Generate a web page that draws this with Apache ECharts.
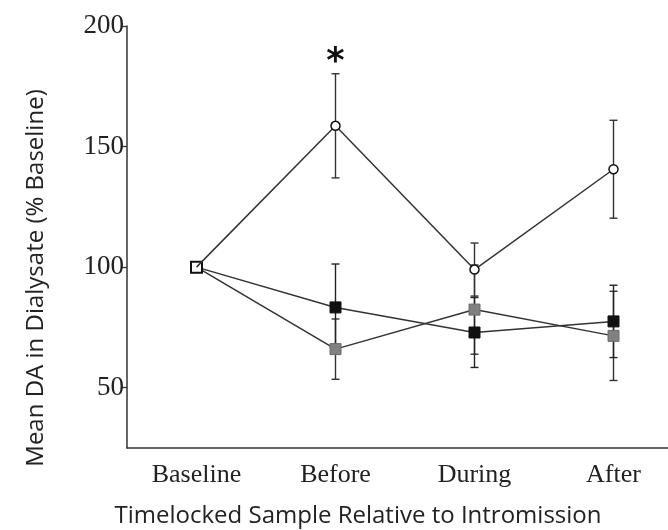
<!DOCTYPE html>
<html>
<head>
<meta charset="utf-8">
<script src="https://cdn.jsdelivr.net/npm/echarts@6/dist/echarts.min.js"></script>
<style>
  html, body { margin: 0; padding: 0; background: #fff; }
  #chart { width: 668px; height: 530px; }
</style>
</head>
<body>
<div id="chart"></div>
<script>
// samples on the x axis
var categories = ['Baseline', 'Before', 'During', 'After'];
var yTicks = [50, 100, 150, 200];

// open circles
var circleMean = [100, 158.6, 99, 140.6];
var circleErr = [0, 21.6, 11, 20.3];
// black squares
var blackMean = [100, 83.3, 72.9, 77.5];
var blackErr = [0, 18, 14.5, 15];
// grey squares
var greyMean = [100, 66, 82.4, 71.5];
var greyErr = [0, 12.5, 18.5, 18.5];
// significance marks (open circles)
var sigMarks = ['', '*', '', ''];

var chart = echarts.init(document.getElementById('chart'));

function errData(mean, err, marks) {
  var out = [];
  for (var i = 0; i < mean.length; i++) {
    if (err[i] > 0) out.push([i, mean[i], err[i], marks ? marks[i] : '']);
  }
  return out;
}

function renderErr(color) {
  return function(params, api) {
    var x = api.value(0), m = api.value(1), e = api.value(2);
    var top = api.coord([x, m + e]);
    var bot = api.coord([x, m - e]);
    var w = 4;
    var st = { stroke: color, lineWidth: 1.4 };
    var kids = [
      { type: 'line', shape: { x1: top[0], y1: top[1], x2: bot[0], y2: bot[1] }, style: st },
      { type: 'line', shape: { x1: top[0] - w, y1: top[1], x2: top[0] + w, y2: top[1] }, style: st },
      { type: 'line', shape: { x1: bot[0] - w, y1: bot[1], x2: bot[0] + w, y2: bot[1] }, style: st }
    ];
    var mark = api.value(3);
    if (mark) {
      kids.push({
        type: 'text',
        style: {
          text: mark, x: top[0], y: top[1] - 11,
          align: 'center', verticalAlign: 'middle',
          font: 'bold 35px "DejaVu Sans"', fill: '#111'
        }
      });
    }
    return { type: 'group', children: kids };
  };
}

var lineStyle = { color: '#333', width: 1.5 };

var option = {
  animation: false,
  backgroundColor: '#fff',
  grid: { left: 127, top: 26, right: -15, bottom: 82, outerBoundsMode: 'none' },
  xAxis: {
    type: 'category',
    data: categories,
    boundaryGap: true,
    axisLine: { lineStyle: { color: '#333', width: 1.5 } },
    axisTick: { alignWithLabel: true, length: 6, lineStyle: { color: '#333', width: 1.3 } },
    axisLabel: { fontFamily: 'Liberation Serif', fontSize: 26, color: '#222', margin: 14 }
  },
  yAxis: {
    type: 'value',
    min: 25,
    max: 200,
    splitLine: { show: false },
    axisLine: { show: true, lineStyle: { color: '#333', width: 1.5 } },
    axisTick: { show: true, length: 6, customValues: yTicks, lineStyle: { color: '#333', width: 1.3 } },
    axisLabel: { customValues: yTicks, fontFamily: 'Liberation Serif', fontSize: 27, color: '#222', margin: 3 }
  },
  graphic: [
    {
      type: 'text', x: 36, y: 278, rotation: Math.PI / 2,
      style: {
        text: 'Mean DA in Dialysate (% Baseline)', align: 'center', verticalAlign: 'middle',
        font: '24px "Open Sans"', fill: '#222'
      }
    },
    {
      type: 'text', x: 358, y: 516,
      style: {
        text: 'Timelocked Sample Relative to Intromission', align: 'center', verticalAlign: 'middle',
        font: '24px "Open Sans"', fill: '#222'
      }
    }
  ],
  series: [
    { type: 'custom', renderItem: renderErr('#333'), data: errData(greyMean, greyErr), z: 1 },
    { type: 'custom', renderItem: renderErr('#222'), data: errData(blackMean, blackErr), z: 1 },
    { type: 'custom', renderItem: renderErr('#333'), data: errData(circleMean, circleErr, sigMarks), z: 1 },
    {
      type: 'line', data: greyMean, symbol: 'rect', symbolSize: 11, z: 3,
      lineStyle: lineStyle, itemStyle: { color: '#808080', borderColor: '#6a6a6a', borderWidth: 1 }
    },
    {
      type: 'line', z: 4, symbol: 'rect', symbolSize: 11, lineStyle: lineStyle,
      itemStyle: { color: '#111', borderColor: '#111', borderWidth: 1 },
      data: blackMean.map(function(v, i) {
        return i === 0 ? { value: v, itemStyle: { color: '#fff', borderColor: '#111', borderWidth: 2 } } : v;
      })
    },
    {
      type: 'line', z: 5, symbol: 'circle', symbolSize: 9, lineStyle: lineStyle,
      itemStyle: { color: '#fff', borderColor: '#111', borderWidth: 1.5 },
      data: circleMean.map(function(v, i) {
        return i === 0 ? { value: v, symbol: 'none' } : v;
      })
    }
  ]
};

chart.setOption(option);
</script>
</body>
</html>
